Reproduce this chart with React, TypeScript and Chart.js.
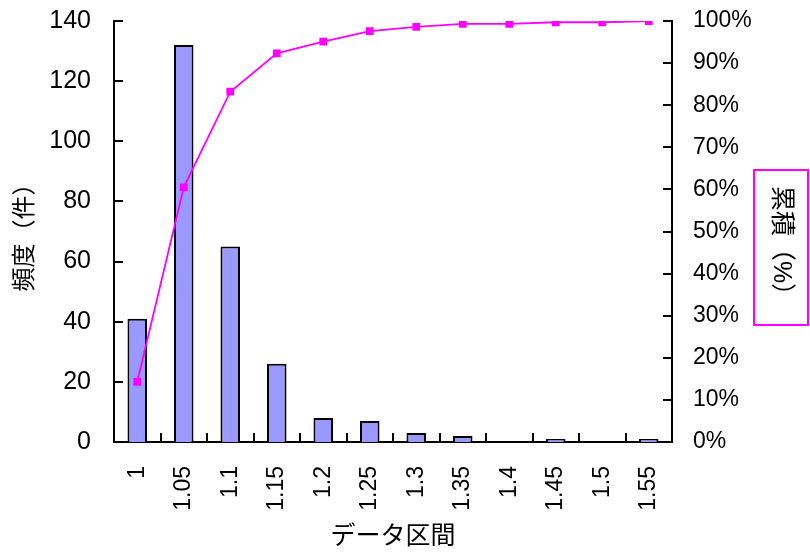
import React, { useEffect, useRef } from "react";
import { Chart, registerables } from "chart.js";

Chart.register(...registerables);

const categories = ["1", "1.05", "1.1", "1.15", "1.2", "1.25", "1.3", "1.35", "1.4", "1.45", "1.5", "1.55"];
const frequency = [41, 132, 65, 26, 8, 7, 3, 2, 0, 1, 0, 1];
const cumulativePct = [14.3, 60.5, 83.2, 92.3, 95.1, 97.6, 98.6, 99.3, 99.3, 99.7, 99.7, 100];
const leftTitle = "頻度（件）";
const rightTitle = "累積（%）";
const xTitle = "データ区間";

const FONT = "'Liberation Sans', Arial, 'Noto Sans CJK JP', sans-serif";

const innerTicks = {
  id: "innerTicks",
  afterDraw(chart: any) {
    const ctx = chart.ctx;
    const { y, y1 } = chart.scales;
    const area = chart.chartArea;
    ctx.save();
    ctx.strokeStyle = "#000";
    ctx.lineWidth = 2;
    ctx.beginPath();
    y.ticks.forEach((t: any) => {
      const py = Math.round(y.getPixelForValue(t.value));
      ctx.moveTo(area.left, py);
      ctx.lineTo(area.left + 9, py);
    });
    y1.ticks.forEach((t: any) => {
      const py = Math.round(y1.getPixelForValue(t.value));
      ctx.moveTo(area.right, py);
      ctx.lineTo(area.right - 9, py);
    });
    const n = categories.length;
    const w = (area.right - area.left) / n;
    for (let k = 1; k < n; k++) {
      const px = Math.round(area.left + k * w);
      ctx.moveTo(px, area.bottom);
      ctx.lineTo(px, area.bottom - 9);
    }
    ctx.stroke();

    // right axis title box
    ctx.strokeStyle = "#FF00FF";
    ctx.lineWidth = 2;
    ctx.strokeRect(754, 170, 54, 155);
    ctx.translate(781, 247);
    ctx.rotate(Math.PI / 2);
    ctx.fillStyle = "#000";
    ctx.font = "25px " + FONT;
    ctx.textAlign = "center";
    ctx.textBaseline = "middle";
    ctx.fillText(rightTitle, 0, 0);
    ctx.restore();
  },
};

export default function App() {
  const ref = useRef<HTMLCanvasElement | null>(null);
  useEffect(() => {
    document.body.style.margin = "0";
    const chart = new Chart(ref.current as HTMLCanvasElement, {
      type: "bar",
      data: {
        labels: categories,
        datasets: [
          {
            type: "line",
            data: cumulativePct.map((v) => v / 100),
            yAxisID: "y1",
            borderColor: "#FF00FF",
            backgroundColor: "#FF00FF",
            borderWidth: 1.8,
            pointStyle: "rect",
            pointRadius: 5.5,
            pointBorderWidth: 0,
            tension: 0,
            order: 0,
          } as any,
          {
            type: "bar",
            data: frequency,
            yAxisID: "y",
            backgroundColor: "#9999FF",
            borderColor: "#000",
            borderWidth: 2,
            borderSkipped: "bottom",
            categoryPercentage: 1,
            barPercentage: 0.42,
            order: 1,
          } as any,
        ],
      },
      options: {
        responsive: false,
        animation: false,
        layout: { padding: { top: 21, left: 0, right: 0, bottom: 0 } },
        plugins: { legend: { display: false }, tooltip: { enabled: false } },
        scales: {
          x: {
            type: "category",
            offset: true,
            grid: { display: false, drawTicks: false },
            border: { display: true, color: "#000", width: 2 },
            ticks: {
              color: "#000",
              font: { family: FONT, size: 23 },
              maxRotation: 90,
              minRotation: 90,
              padding: 24,
              autoSkip: false,
            },
            title: {
              display: true,
              text: xTitle,
              color: "#000",
              font: { family: FONT, size: 25 },
              padding: 0,
            },
            afterFit: (s: any) => {
              s.height = 110;
              s.paddingLeft = 0;
              s.paddingRight = 0;
            },
          },
          y: {
            position: "left",
            min: 0,
            max: 140,
            grid: { display: false, drawTicks: false },
            border: { display: true, color: "#000", width: 2 },
            ticks: {
              stepSize: 20,
              color: "#000",
              font: { family: FONT, size: 25 },
              padding: 23,
            },
            title: {
              display: true,
              text: leftTitle,
              color: "#000",
              font: { family: FONT, size: 24 },
              padding: { top: 11, bottom: 0 },
            },
            afterFit: (s: any) => {
              s.width = 114;
              s.paddingTop = 0;
              s.paddingBottom = 0;
            },
          },
          y1: {
            position: "right",
            min: 0,
            max: 1,
            grid: { display: false, drawTicks: false },
            border: { display: true, color: "#000", width: 2 },
            ticks: {
              stepSize: 0.1,
              color: "#000",
              font: { family: FONT, size: 23 },
              padding: 21,
              callback: (v: any) => Math.round(Number(v) * 100) + "%",
            },
            afterFit: (s: any) => {
              s.width = 138;
              s.paddingTop = 0;
              s.paddingBottom = 0;
            },
          },
        },
      },
      plugins: [innerTicks],
    });
    return () => chart.destroy();
  }, []);
  return (
    <div style={{ position: "fixed", left: 0, top: 0, width: 810, height: 552, background: "#fff" }}>
      <canvas ref={ref} width={810} height={552} />
    </div>
  );
}
